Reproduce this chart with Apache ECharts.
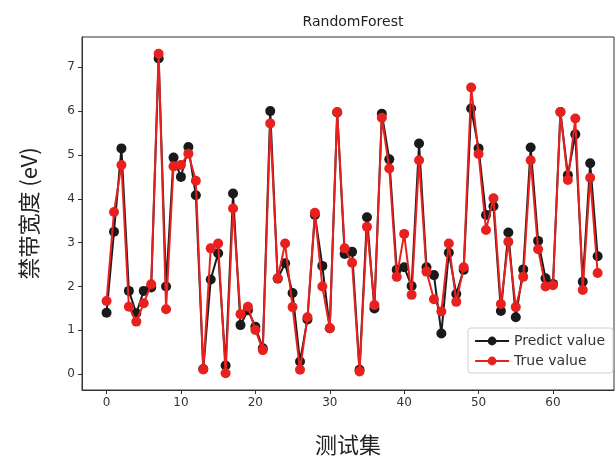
<!DOCTYPE html>
<html>
<head>
<meta charset="utf-8">
<script src="https://cdn.jsdelivr.net/npm/echarts@6/dist/echarts.min.js"></script>
<style>
  html, body { margin: 0; padding: 0; background: #fff; }
  #chart { width: 616px; height: 463px; }
</style>
</head>
<body>
<div id="chart"></div>
<script>
// values, sample index 0..66
var predictValues = [1.40, 3.25, 5.15, 1.90, 1.39, 1.90, 1.98, 7.20, 2.00, 4.94,
  4.50, 5.18, 4.08, 0.12, 2.16, 2.76, 0.20, 4.12, 1.12, 1.46,
  1.08, 0.59, 6.00, 2.18, 2.53, 1.85, 0.29, 1.25, 3.63, 2.47,
  1.05, 5.97, 2.74, 2.79, 0.10, 3.58, 1.50, 5.94, 4.90, 2.38,
  2.44, 2.01, 5.26, 2.44, 2.26, 0.93, 2.77, 1.83, 2.38, 6.06,
  5.15, 3.63, 3.83, 1.44, 3.23, 1.30, 2.39, 5.17, 3.04, 2.19,
  2.06, 5.98, 4.54, 5.47, 2.11, 4.81, 2.69];
var trueValues = [1.67, 3.70, 4.77, 1.54, 1.20, 1.62, 2.05, 7.31, 1.48, 4.74,
  4.77, 5.03, 4.41, 0.11, 2.87, 2.98, 0.02, 3.78, 1.37, 1.54,
  1.01, 0.55, 5.72, 2.19, 2.98, 1.53, 0.10, 1.30, 3.68, 2.00,
  1.05, 5.98, 2.87, 2.54, 0.06, 3.36, 1.58, 5.85, 4.69, 2.22,
  3.20, 1.81, 4.88, 2.34, 1.71, 1.43, 2.98, 1.65, 2.44, 6.54,
  5.02, 3.29, 4.01, 1.60, 3.02, 1.53, 2.22, 4.88, 2.85, 2.00,
  2.03, 5.98, 4.43, 5.83, 1.92, 4.48, 2.31];
var xTicks = [0, 10, 20, 30, 40, 50, 60];
var yTicks = [0, 1, 2, 3, 4, 5, 6, 7];

function pairs(arr) {
  return arr.map(function (v, i) { return [i, v]; });
}

var chart = echarts.init(document.getElementById('chart'));
var font = 'DejaVu Sans';
chart.setOption({
  animation: false,
  backgroundColor: '#fff',
  title: {
    text: 'RandomForest',
    left: 348, top: 10, textAlign: 'center',
    textStyle: { fontFamily: font, fontSize: 14, fontWeight: 'normal', color: '#222' }
  },
  grid: {
    left: 82, top: 37, right: 2, bottom: 73,
    show: true, borderColor: '#333', borderWidth: 1, backgroundColor: 'transparent'
  },
  legend: {
    orient: 'vertical',
    right: 3, top: 328,
    padding: [6, 8, 5, 6],
    itemGap: 6,
    itemWidth: 34, itemHeight: 11,
    backgroundColor: '#fff',
    borderColor: '#d0d0d0', borderWidth: 1, borderRadius: 3,
    textStyle: { fontFamily: font, fontSize: 14, color: '#333' },
    data: ['Predict value', 'True value']
  },
  xAxis: {
    type: 'value',
    min: -3.3, max: 68.2,
    name: '测试集',
    nameLocation: 'middle', nameGap: 44,
    nameTextStyle: { fontFamily: 'Noto Sans CJK SC', fontSize: 22, color: '#222' },
    splitLine: { show: false },
    axisLine: { show: true, onZero: false, lineStyle: { color: '#333' } },
    axisTick: { show: true, customValues: xTicks, length: 4, lineStyle: { color: '#333' } },
    axisLabel: { customValues: xTicks, fontFamily: font, fontSize: 12, color: '#333', margin: 7 }
  },
  yAxis: {
    type: 'value',
    min: -0.36, max: 7.69,
    name: '禁带宽度 (eV)',
    nameLocation: 'middle', nameGap: 42, nameRotate: 90,
    nameTextStyle: { fontFamily: 'Noto Sans CJK SC', fontSize: 22, color: '#222' },
    splitLine: { show: false },
    axisLine: { show: true, onZero: false, lineStyle: { color: '#333' } },
    axisTick: { show: true, customValues: yTicks, length: 4, lineStyle: { color: '#333' } },
    axisLabel: { customValues: yTicks, fontFamily: font, fontSize: 12, color: '#333', margin: 7 }
  },
  series: [
    {
      name: 'Predict value',
      type: 'line',
      data: pairs(predictValues),
      symbol: 'circle', symbolSize: 10,
      itemStyle: { color: '#1a1a1a' },
      lineStyle: { width: 2, color: '#1a1a1a' },
      z: 2
    },
    {
      name: 'True value',
      type: 'line',
      data: pairs(trueValues),
      symbol: 'circle', symbolSize: 10,
      itemStyle: { color: '#e8211f' },
      lineStyle: { width: 2, color: '#e8211f' },
      z: 3
    }
  ]
});
</script>
</body>
</html>
